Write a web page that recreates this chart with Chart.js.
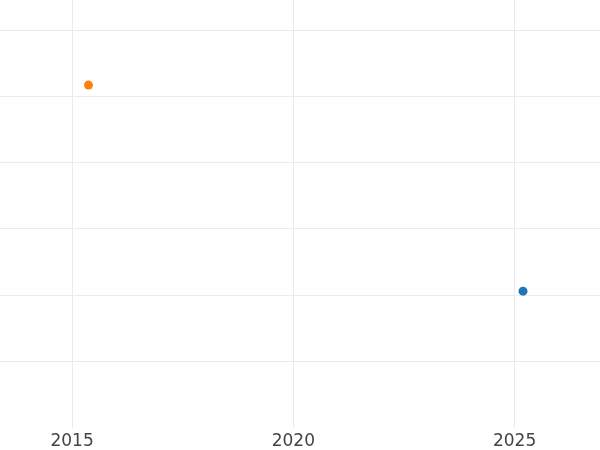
<!DOCTYPE html>
<html>
<head>
<meta charset="utf-8">
<script src="https://cdn.jsdelivr.net/npm/chart.js@4/dist/chart.umd.min.js"></script>
<style>
  html, body { margin: 0; padding: 0; background: #fff; }
  #wrap { width: 600px; height: 450px; }
</style>
</head>
<body>
<div id="wrap"><canvas id="chart"></canvas></div>
<script>
// values
const xTicks = [2015, 2020, 2025];
const yGrid = [1, 2, 3, 4, 5, 6];
const blueX = [2025.19];
const blueY = [2.06];
const orangeX = [2015.37];
const orangeY = [5.17];

const toPoints = (xs, ys) => xs.map((x, i) => ({ x: x, y: ys[i] }));

const ctx = document.getElementById("chart").getContext('2d');

new Chart(ctx, {
    type: 'scatter',
    data: {
        datasets: [{
            data: toPoints(blueX, blueY),
            backgroundColor: '#1f77b4',
            borderWidth: 0,
            pointRadius: 4.5
        }, {
            data: toPoints(orangeX, orangeY),
            backgroundColor: '#ff7f0e',
            borderWidth: 0,
            pointRadius: 4.5
        }]
    },
    options: {
        responsive: true,
        maintainAspectRatio: false,
        animation: false,
        // the axis sits a bit lower than chart.js puts it
        layout: { padding: { top: 0, left: 0, right: 0, bottom: -6 }, autoPadding: false },
        plugins: {
            legend: { display: false },
            tooltip: { enabled: false }
        },
        scales: {
            x: {
                type: 'linear',
                min: 2013.37,
                max: 2026.93,
                afterBuildTicks: axis => {
                    axis.ticks = xTicks.map(v => ({ value: v }));
                },
                border: { display: false },
                grid: { color: '#ebebeb', drawTicks: false },
                ticks: {
                    padding: 4,
                    maxRotation: 0,
                    color: '#444',
                    font: { family: 'DejaVu Sans', size: 17 },
                    callback: v => String(v)
                }
            },
            y: {
                min: 0,
                max: 6.455,
                afterBuildTicks: axis => {
                    axis.ticks = yGrid.map(v => ({ value: v }));
                },
                border: { display: false },
                grid: { color: '#ebebeb', drawTicks: false },
                ticks: { display: false }
            }
        }
    }
});
</script>
</body>
</html>
